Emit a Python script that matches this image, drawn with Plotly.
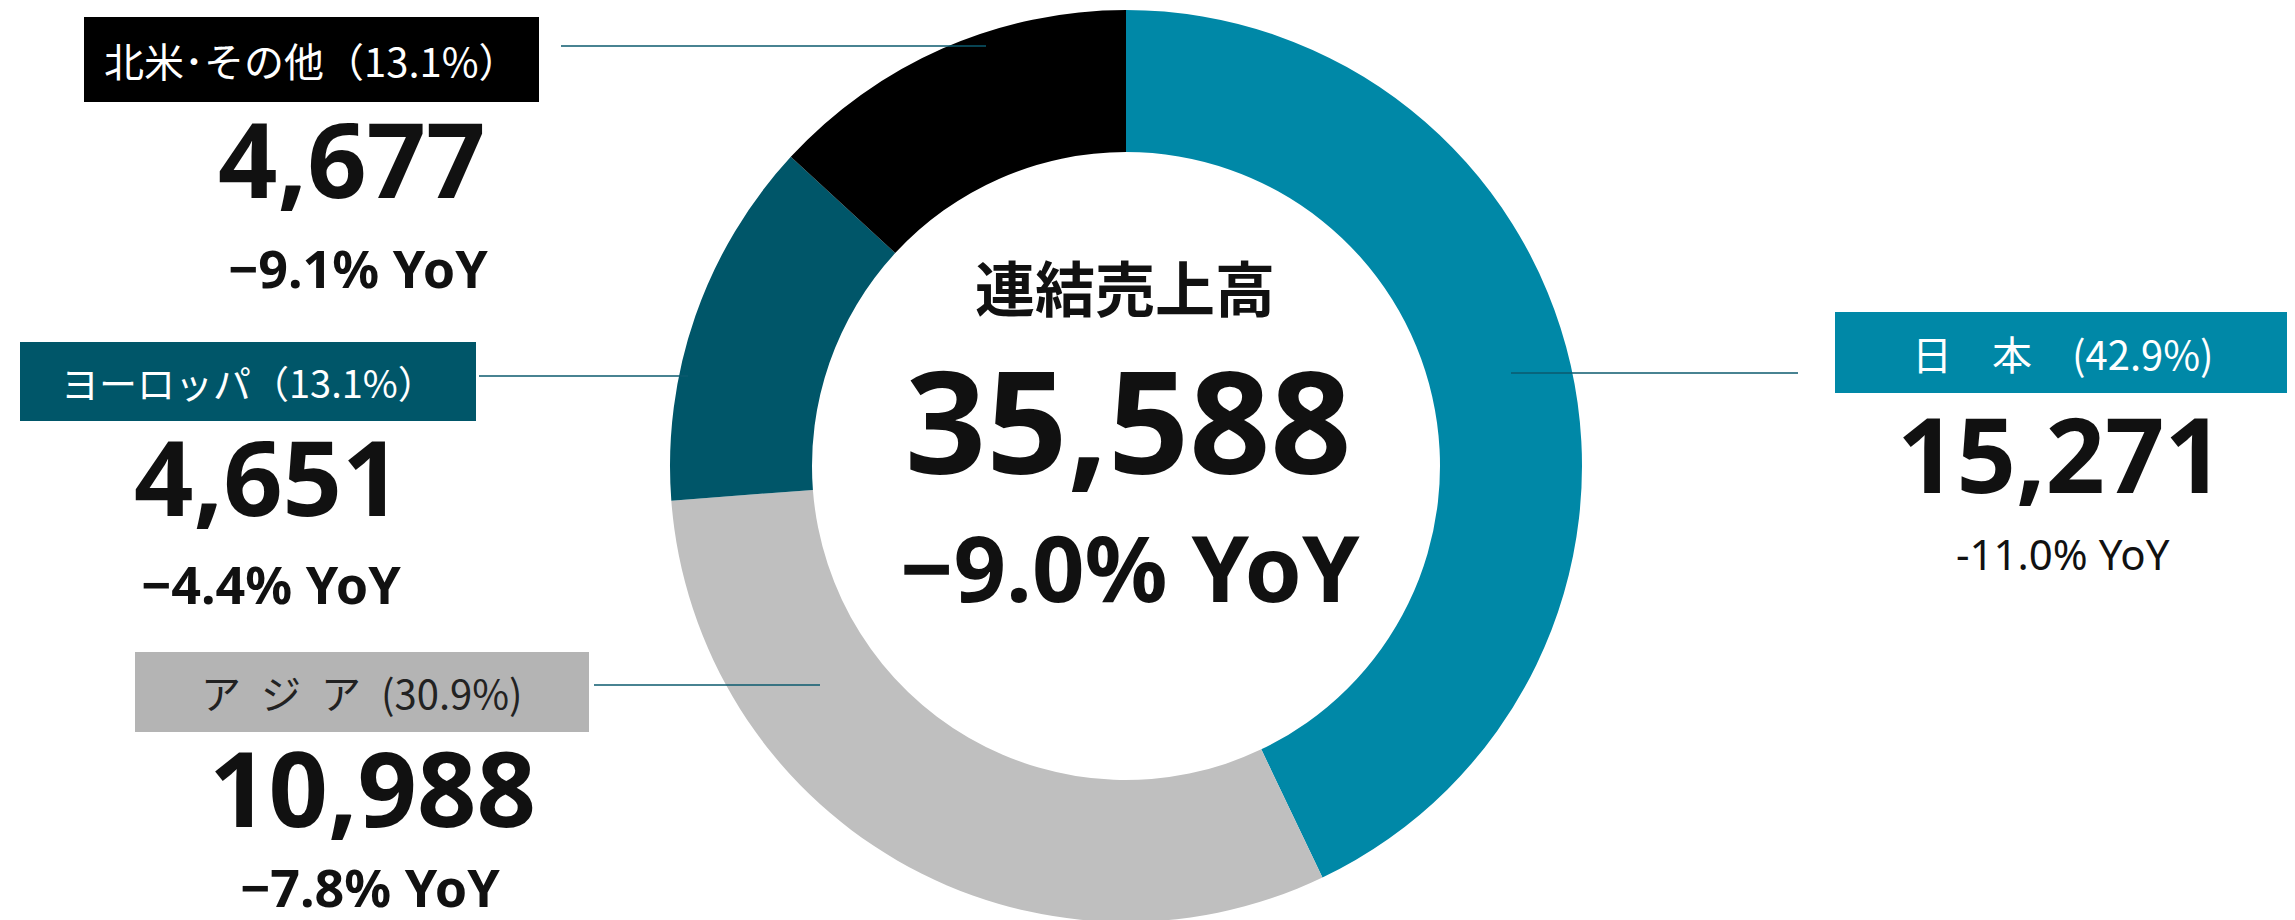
import plotly.graph_objects as go

# ---- data ----
regions = ["日本", "アジア", "ヨーロッパ", "北米・その他"]
box_labels = ["日　本　(42.9%)", "ア\u2002ジ\u2002ア\u2002(30.9%)", "ヨーロッパ（13.1%）", "北米･その他（13.1%）"]
sales = [15271, 10988, 4651, 4677]
share_pct = [42.9, 30.9, 13.1, 13.1]
yoy_pct = [-11.0, -7.8, -4.4, -9.1]
total_sales = 35588
total_yoy = -9.0
center_title = "連結売上高"

# ---- styles ----
W, H = 2295, 920
slice_colors = ["#0088A7", "#BFBFBF", "#005669", "#000000"]
box_colors = ["#0088A7", "#B4B4B4", "#005669", "#000000"]
box_text_colors = ["#FFFFFF", "#222222", "#FFFFFF", "#FFFFFF"]
line_color = "#0B5A6E"

cx, cy, R, r_in = 1118, 458, 456, 314

# label layout (pixel positions, top-left origin)
layout_pos = {
    "日本":       dict(box=(1827, 304, 2283, 385), num=(2052, 444), yoy=(2055, 545), line=(1503, 1790, 365), yoy_bold=False, box_size=40),
    "アジア":     dict(box=(127, 644, 581, 724), num=(364, 778), yoy=(362, 878), line=(586, 812, 677), yoy_bold=True, box_size=40),
    "ヨーロッパ": dict(box=(12, 334, 468, 413), num=(260, 467), yoy=(263, 575), line=(471, 680, 368), yoy_bold=True, box_size=38),
    "北米・その他": dict(box=(76, 9, 531, 94), num=(344, 149), yoy=(350, 259), line=(553, 978, 38), yoy_bold=True, box_size=40),
}

def px(x):
    return x / W

def py(y):
    return 1 - y / H

fig = go.Figure()
fig.add_trace(go.Pie(
    labels=regions,
    values=sales,
    sort=False,
    direction="clockwise",
    rotation=0,
    hole=r_in / R,
    marker=dict(colors=slice_colors, line=dict(width=0)),
    textinfo="none",
    hoverinfo="label+value+percent",
    domain=dict(x=[px(cx - R), px(cx + R)], y=[py(cy + R), py(cy - R)]),
    showlegend=False,
))

shapes = []
annotations = []
num_font = "Noto Sans, Roboto, Liberation Sans, sans-serif"
jp_font = "Noto Sans CJK JP, Noto Sans, sans-serif"

for i, reg in enumerate(regions):
    p = layout_pos[reg]
    x0, y0, x1, y1 = p["box"]
    shapes.append(dict(type="rect", xref="paper", yref="paper",
                       x0=px(x0), x1=px(x1), y0=py(y1), y1=py(y0),
                       fillcolor=box_colors[i], line=dict(width=0), layer="above"))
    annotations.append(dict(xref="paper", yref="paper", x=px((x0 + x1) / 2), y=py((y0 + y1) / 2),
                            text=box_labels[i], showarrow=False, xanchor="center", yanchor="middle",
                            font=dict(family=jp_font, size=p["box_size"], color=box_text_colors[i])))
    annotations.append(dict(xref="paper", yref="paper", x=px(p["num"][0]), y=py(p["num"][1]),
                            text=f"<b>{sales[i]:,}</b>", showarrow=False, xanchor="center", yanchor="middle",
                            font=dict(family=num_font, size=104, color="#111111")))
    yoy_txt = f"{yoy_pct[i]:.1f}% YoY"
    if p["yoy_bold"]:
        yoy_txt = "<b>" + yoy_txt.replace("-", "−") + "</b>"
        yoy_size = 52
    else:
        yoy_size = 42
    annotations.append(dict(xref="paper", yref="paper", x=px(p["yoy"][0]), y=py(p["yoy"][1]),
                            text=yoy_txt, showarrow=False, xanchor="center", yanchor="middle",
                            font=dict(family=num_font, size=yoy_size, color="#111111")))
    lx0, lx1, ly = p["line"]
    shapes.append(dict(type="line", xref="paper", yref="paper",
                       x0=px(lx0), x1=px(lx1), y0=py(ly), y1=py(ly),
                       line=dict(color=line_color, width=1.5), layer="above"))

# center texts
annotations.append(dict(xref="paper", yref="paper", x=px(1117), y=py(277),
                        text=f"<b>{center_title}</b>", showarrow=False, xanchor="center", yanchor="middle",
                        font=dict(family=jp_font, size=60, color="#111111")))
annotations.append(dict(xref="paper", yref="paper", x=px(1120), y=py(411),
                        text=f"<b>{total_sales:,}</b>", showarrow=False, xanchor="center", yanchor="middle",
                        font=dict(family=num_font, size=142, color="#111111")))
annotations.append(dict(xref="paper", yref="paper", x=px(1122), y=py(558),
                        text=f"<b>{total_yoy:.1f}% YoY</b>".replace("-", "−"), showarrow=False,
                        xanchor="center", yanchor="middle",
                        font=dict(family=num_font, size=92, color="#111111")))

fig.update_layout(
    width=W, height=H,
    margin=dict(l=0, r=0, t=0, b=0),
    paper_bgcolor="white",
    plot_bgcolor="white",
    shapes=shapes,
    annotations=annotations,
)

fig.write_html("out.html")
